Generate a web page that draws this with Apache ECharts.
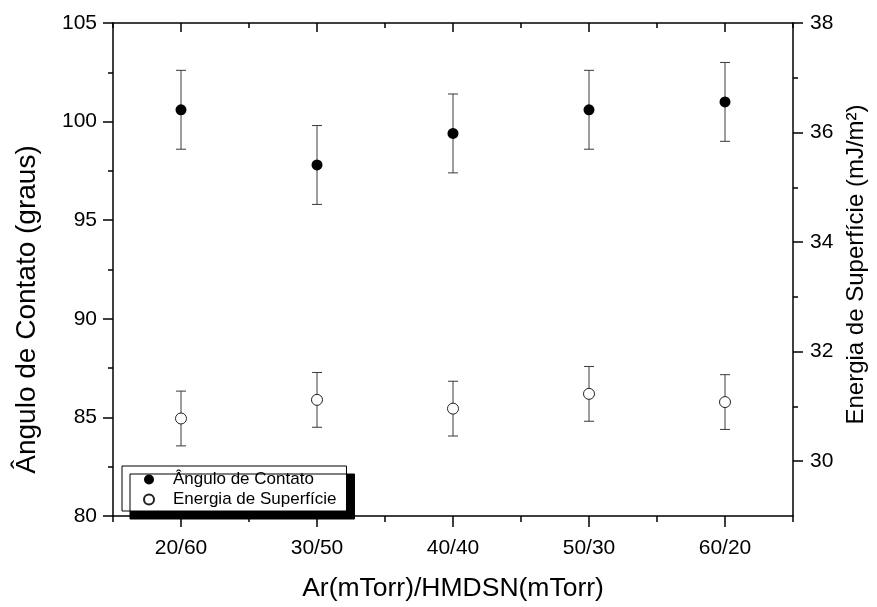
<!DOCTYPE html>
<html><head><meta charset="utf-8">
<script src="https://cdn.jsdelivr.net/npm/echarts@6/dist/echarts.min.js"></script>
<style>html,body{margin:0;padding:0;background:#fff}#c{width:877px;height:607px}</style>
</head><body><div id="c"></div>
<script>
const categories = ['20/60', '30/50', '40/40', '50/30', '60/20'];
const anguloValues = [100.6, 97.8, 99.4, 100.6, 101.0];
const anguloErrors = [2.0, 2.0, 2.0, 2.0, 2.0];
const energiaValues = [30.78, 31.12, 30.96, 31.23, 31.08];
const energiaErrors = [0.5, 0.5, 0.5, 0.5, 0.5];
const leftTicks = [80, 85, 90, 95, 100, 105];
const rightTicks = [30, 32, 34, 36, 38];
const rightMinorTicks = [31, 33, 35, 37];
const rightMin = 29;

const FONT = 'Arial, "Liberation Sans", sans-serif';
const AX = {color: '#000', width: 1.5};

function errorData(values, errors) {
  return values.map((v, i) => [i, v - errors[i], v + errors[i]]);
}
function errorRender(params, api) {
  const x = api.value(0);
  const lo = api.coord([x, api.value(1)]);
  const hi = api.coord([x, api.value(2)]);
  const cap = 5;
  const style = {stroke: '#3a3a3a', lineWidth: 1, fill: null};
  return {type: 'group', children: [
    {type: 'line', shape: {x1: lo[0], y1: lo[1], x2: hi[0], y2: hi[1]}, style: style},
    {type: 'line', shape: {x1: lo[0] - cap, y1: lo[1], x2: lo[0] + cap, y2: lo[1]}, style: style},
    {type: 'line', shape: {x1: hi[0] - cap, y1: hi[1], x2: hi[0] + cap, y2: hi[1]}, style: style}
  ]};
}

const chart = echarts.init(document.getElementById('c'), null, {renderer: 'canvas'});
chart.setOption({
  animation: false,
  backgroundColor: '#fff',
  grid: {left: 113, right: 84, top: 23, bottom: 84, containLabel: false},
  legend: {
    orient: 'vertical', left: 122, top: 466,
    padding: [5, 10, 3, 21], itemGap: 3, itemWidth: 38, itemHeight: 10,
    selectedMode: false,
    data: [{name: 'Ângulo de Contato', icon: 'circle'}, {name: 'Energia de Superfície', icon: 'circle'}],
    textStyle: {fontSize: 17, color: '#000', fontFamily: FONT},
    backgroundColor: '#fff', borderColor: '#000', borderWidth: 1,
    shadowColor: '#000', shadowOffsetX: 8, shadowOffsetY: 8, shadowBlur: 0
  },
  xAxis: [
    {
      type: 'category', data: categories, position: 'bottom', boundaryGap: true,
      axisLine: {onZero: false, lineStyle: AX},
      axisTick: {show: true, interval: 0, alignWithLabel: true, length: 11, lineStyle: AX},
      axisLabel: {color: '#000', fontSize: 21, fontFamily: FONT, margin: 22, interval: 0},
      splitLine: {show: false},
      name: 'Ar(mTorr)/HMDSN(mTorr)', nameLocation: 'middle', nameGap: 59,
      nameTextStyle: {fontSize: 26.5, color: '#000', fontFamily: FONT}
    },
    {
      type: 'value', min: 0, max: categories.length, interval: 1, position: 'bottom',
      axisLine: {show: false, onZero: false}, axisTick: {show: true, length: 6, lineStyle: AX},
      axisLabel: {show: false}, splitLine: {show: false}
    },
    {
      type: 'category', data: categories, position: 'top', boundaryGap: true,
      axisLine: {onZero: false, lineStyle: AX},
      axisTick: {show: true, interval: 0, alignWithLabel: true, inside: true, length: 9, lineStyle: AX},
      axisLabel: {show: false, interval: 0}, splitLine: {show: false}
    },
    {
      type: 'value', min: 0, max: categories.length, interval: 1, position: 'top',
      axisLine: {show: false, onZero: false}, axisTick: {show: true, inside: true, length: 5, lineStyle: AX},
      axisLabel: {show: false}, splitLine: {show: false}
    }
  ],
  yAxis: [
    {
      type: 'value', position: 'left', min: leftTicks[0], max: leftTicks[leftTicks.length - 1], interval: 5,
      axisLine: {show: true, onZero: false, lineStyle: AX},
      axisTick: {show: true, length: 10, lineStyle: AX},
      minorTick: {show: true, splitNumber: 2, length: 5, lineStyle: AX},
      axisLabel: {color: '#000', fontSize: 21, fontFamily: FONT, margin: 16},
      splitLine: {show: false},
      name: 'Ângulo de Contato (graus)', nameLocation: 'middle', nameGap: 72,
      nameTextStyle: {fontSize: 28, color: '#000', fontFamily: FONT, padding: [0, 80, 0, 0]}
    },
    {
      type: 'value', position: 'right', min: rightMin, max: rightTicks[rightTicks.length - 1], interval: 1,
      axisLine: {show: true, onZero: false, lineStyle: AX},
      axisTick: {show: true, length: 10, lineStyle: AX, customValues: rightTicks},
      axisLabel: {color: '#000', fontSize: 21, fontFamily: FONT, margin: 17, customValues: rightTicks},
      splitLine: {show: false},
      name: 'Energia de Superfície (mJ/m²)', nameLocation: 'middle', nameGap: 48,
      nameTextStyle: {fontSize: 24, color: '#000', fontFamily: FONT, padding: [0, 0, 0, 10]}
    },
    {
      type: 'value', position: 'right', min: rightMin, max: rightTicks[rightTicks.length - 1], interval: 1,
      axisLine: {show: false, onZero: false},
      axisTick: {show: true, length: 5, lineStyle: AX, customValues: rightMinorTicks},
      axisLabel: {show: false}, splitLine: {show: false}
    }
  ],
  series: [
    {
      type: 'custom', name: 'errAngulo', xAxisIndex: 0, yAxisIndex: 0, z: 2,
      renderItem: errorRender, data: errorData(anguloValues, anguloErrors),
      encode: {x: 0, y: [1, 2]}
    },
    {
      type: 'custom', name: 'errEnergia', xAxisIndex: 0, yAxisIndex: 1, z: 2,
      renderItem: errorRender, data: errorData(energiaValues, energiaErrors),
      encode: {x: 0, y: [1, 2]}
    },
    {
      type: 'scatter', name: 'Ângulo de Contato', xAxisIndex: 0, yAxisIndex: 0, z: 3,
      symbol: 'circle', symbolSize: 11, data: anguloValues,
      itemStyle: {color: '#000', opacity: 1}
    },
    {
      type: 'scatter', name: 'Energia de Superfície', xAxisIndex: 0, yAxisIndex: 1, z: 3,
      symbol: 'circle', symbolSize: 11, data: energiaValues,
      itemStyle: {color: '#fff', borderColor: '#222', borderWidth: 1, opacity: 1}
    }
  ]
});
</script></body></html>
